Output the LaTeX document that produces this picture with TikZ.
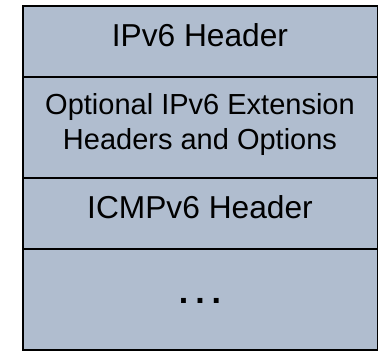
\documentclass[tikz,border=0pt]{standalone}
\usepackage{fontspec}
\setmainfont{Liberation Sans}
\usetikzlibrary{positioning}
\definecolor{layerfill}{RGB}{176,189,207}
\tikzset {
    layer/.style={
        draw=black,
        fill=layerfill,
        line width=1.8pt,
        rectangle, % one row of the packet
        minimum width=355pt,
        inner sep=0pt,
        anchor=north west,
    },
    big label/.style={
        font=\fontsize{31.7}{38}\selectfont,
        inner sep=0pt,
        anchor=base,
    },
    small label/.style={
        font=\fontsize{29}{35}\selectfont,
        inner sep=0pt,
        align=center,
        anchor=base,
    },
}
\begin{document}
\begin{tikzpicture}[x=1pt,y=-1pt]
\useasboundingbox (0,0) rectangle (378,351);
\node[layer, minimum height=71pt] at (22,5) (ipv6) {};
\node[layer, minimum height=101pt] at (22,76) (ext) {};
\node[layer, minimum height=71pt] at (22,177) (icmp) {};
\node[layer, minimum height=101pt] at (22,248) (data) {};

\node[big label] at (200,46) (ipv6text) {IPv6 Header};
\node[small label] at (200,149) (exttext) {Optional IPv6 Extension\\Headers and Options};
\node[big label] at (200,218) (icmptext) {ICMPv6 Header};
\node[big label, font=\fontsize{34}{40}\selectfont] at (200,303) (datatext) {\textbf{.\hspace{7pt}.\hspace{7pt}.}};
\end{tikzpicture}
\end{document}
